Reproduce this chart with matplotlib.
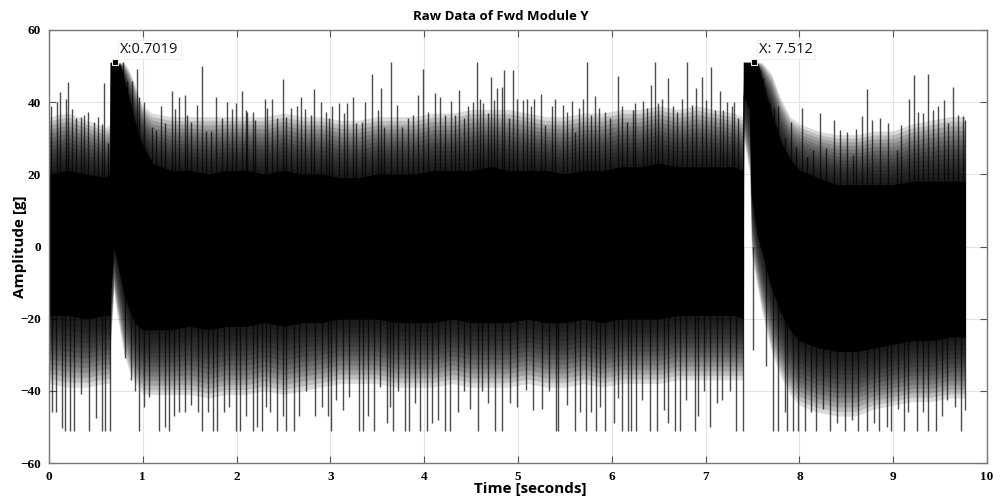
import numpy as np
import matplotlib
matplotlib.use("Agg")
import matplotlib.pyplot as plt

# ---------------- data ----------------
title = "Raw Data of Fwd Module Y"
xlabel = "Time [seconds]"
ylabel = "Amplitude [g]"
xticks = [0, 1, 2, 3, 4, 5, 6, 7, 8, 9, 10]
yticks = [-60, -40, -20, 0, 20, 40, 60]

# envelope of the dense signal band
band_t = [0, 0.2, 0.4, 0.6, 0.65, 0.655, 0.69, 0.72, 0.76, 0.8, 0.85, 0.9, 0.95, 1.0, 1.1, 1.3, 1.5,
          1.7, 1.9, 2.1, 2.3, 2.5, 2.7, 2.9, 3.1, 3.3, 3.5, 3.7, 3.9, 4.1, 4.3, 4.5, 4.7, 4.9, 5.1,
          5.3, 5.5, 5.7, 5.9, 6.1, 6.3, 6.5, 6.7, 6.9, 7.1, 7.3, 7.4, 7.405, 7.47, 7.49, 7.55, 7.6,
          7.7, 7.8, 7.9, 8.0, 8.2, 8.4, 8.6, 8.8, 9.0, 9.2, 9.4, 9.6, 9.765]
# solid black part
solid_hi = [20, 21, 20, 19, 20, 51, 51, 51, 50, 46, 41, 36, 31, 28, 23, 21, 21,
            20, 21, 21, 20, 21, 20, 20, 19, 19, 20, 20, 20, 21, 21, 21, 22, 21, 21,
            21, 20, 21, 21, 22, 22, 23, 22, 22, 22, 22, 21, 51, 51, 51, 51, 46,
            37, 29, 24, 21, 19, 17, 17, 17, 17, 18, 18, 18, 18]
solid_lo = [-19, -19, -20, -19, -19, -12, 0, -3, -8, -13, -17, -20, -22, -23, -23, -23, -22,
            -23, -22, -22, -21, -22, -21, -21, -20, -20, -20, -21, -21, -21, -20, -21, -21, -21, -20,
            -21, -21, -20, -21, -20, -20, -20, -19, -19, -19, -19, -20, 42, 38, 14, 4, -1,
            -11, -18, -23, -26, -28, -29, -29, -28, -27, -26, -26, -25, -25]
# where the dense fringe of spikes fades out
outer_hi = [36, 37, 35, 33, 34, 51, 51, 51, 51, 51, 49, 46, 42, 39, 37, 36, 36,
            36, 36, 36, 36, 37, 36, 36, 35, 35, 36, 36, 36, 37, 37, 38, 38, 38, 37,
            36, 36, 37, 37, 38, 38, 39, 38, 39, 38, 37, 36, 51, 51, 51, 51, 51,
            48, 41, 36, 34, 32, 31, 31, 32, 32, 34, 35, 36, 36]
outer_lo = [-38, -39, -39, -38, -38, -28, -12, -18, -24, -30, -34, -37, -39, -41, -41, -41, -41,
            -42, -41, -41, -40, -41, -40, -39, -38, -38, -38, -39, -39, -39, -38, -39, -39, -39, -38,
            -39, -39, -38, -39, -38, -38, -38, -37, -37, -37, -37, -37, 30, 20, -2, -11, -18,
            -29, -36, -41, -44, -46, -47, -47, -45, -44, -43, -43, -42, -42]

# tallest positive spikes: time, peak
up_t = [0.02, 0.09, 0.12, 0.185, 0.20, 0.25, 0.285, 0.345, 0.373, 0.416, 0.48, 0.526, 0.569, 0.586, 0.633,
        0.79, 0.835, 0.88, 0.94, 0.96, 1.013, 1.10, 1.137, 1.19, 1.237, 1.308, 1.343, 1.386, 1.45, 1.475,
        1.51, 1.58, 1.628, 1.67, 1.724, 1.777, 1.848, 1.90, 1.947, 1.99, 2.054, 2.097, 2.115, 2.175, 2.20,
        2.30, 2.328, 2.38, 2.434, 2.495, 2.53, 2.576, 2.647, 2.683, 2.73, 2.79, 2.825, 2.896, 2.95, 2.985,
        3.02, 3.092, 3.145, 3.18, 3.24, 3.27, 3.34, 3.37, 3.44, 3.51, 3.54, 3.57, 3.643, 3.707, 3.76,
        3.83, 3.877, 3.938, 3.99, 4.045, 4.116, 4.169, 4.222, 4.283, 4.33, 4.375, 4.425, 4.47, 4.524, 4.56,
        4.595, 4.63, 4.677, 4.71, 4.745, 4.773, 4.826, 4.855, 4.905, 4.95, 4.986, 5.05, 5.093, 5.135, 5.17,
        5.242, 5.288, 5.366, 5.395, 5.477, 5.526, 5.573, 5.608, 5.654, 5.69, 5.732, 5.779, 5.821, 5.86, 5.928,
        5.981, 6.07, 6.106, 6.159, 6.23, 6.248, 6.33, 6.372, 6.418, 6.461, 6.49, 6.532, 6.603, 6.656, 6.69,
        6.751, 6.798, 6.851, 6.897, 6.958, 7.004, 7.057, 7.10, 7.153, 7.189, 7.224, 7.277, 7.306, 7.348,
        7.579, 7.615, 7.633, 7.686, 7.729, 7.775, 7.846, 7.906, 7.963, 8.024, 8.084, 8.148, 8.219, 8.283,
        8.372, 8.432, 8.503, 8.567, 8.603, 8.663, 8.717, 8.77, 8.859, 8.948, 9.036, 9.083, 9.172, 9.221,
        9.267, 9.321, 9.374, 9.427, 9.481, 9.541, 9.587, 9.641, 9.687, 9.74, 9.765]
up_v = [39, 40, 42.7, 41, 45.7, 38, 35.5, 35.8, 36.5, 37.4, 34.6, 35.8, 34, 45.2, 28.6,
        51, 46, 46, 49.1, 41.5, 40, 33, 32.3, 38.8, 34.1, 43, 38, 41.3, 42, 36.4,
        34.6, 39.2, 50, 32, 32, 41.5, 35.5, 40, 38, 39.7, 43.1, 37.8, 37.4, 37.4, 35,
        40.8, 38.3, 41, 35.5, 46.3, 35.8, 38.3, 38.8, 41.5, 38, 36.5, 43.6, 40, 37.4, 35.5,
        38.8, 39.7, 37, 39.7, 41.3, 34.1, 34.6, 40, 47.8, 37.8, 43.8, 33.2, 51, 39.2, 33.2,
        35.5, 36.4, 42, 49.1, 37.4, 42.5, 41.5, 36.4, 40.4, 36.4, 43.4, 35.5, 38.8, 40, 51,
        41, 39.7, 36.9, 46.9, 40.6, 43.8, 44.3, 49, 35.5, 49, 41, 40.6, 40.8, 38.8, 40.8,
        42.2, 33.7, 38.9, 40.8, 39.2, 37.4, 40.4, 31.8, 38.3, 41, 51, 36.4, 41.7, 38.3, 37.4,
        35.5, 47.3, 38.8, 34.6, 37.8, 39.7, 40.3, 38.3, 44.8, 51, 39.7, 41, 46.6, 38.8, 37.4,
        41, 51, 39.2, 44, 46.9, 40.6, 49.7, 37.8, 43, 37.8, 40, 38.8, 40, 35.5,
        48.9, 46.6, 44.3, 39.7, 38.3, 38.8, 30, 34.6, 27.7, 38.3, 24.9, 26.7, 37, 27.2,
        35, 32.3, 31.8, 25.4, 32.5, 36.2, 43.6, 35, 35.5, 34.1, 26.7, 33.7, 40.8, 47.5,
        37.4, 36.9, 47.8, 37.8, 38.8, 40.6, 34.1, 44.1, 36.4, 36.2, 35]

# deepest negative spikes: time, trough
lo_t = [0.03, 0.078, 0.135, 0.17, 0.22, 0.27, 0.338, 0.43, 0.50, 0.57, 0.60, 0.645, 0.81, 0.87, 0.92,
        0.96, 1.01, 1.07, 1.17, 1.24, 1.28, 1.33, 1.39, 1.45, 1.51, 1.59, 1.63, 1.69, 1.75, 1.79,
        1.87, 1.92, 1.99, 2.04, 2.10, 2.17, 2.22, 2.27, 2.31, 2.36, 2.43, 2.49, 2.53, 2.61, 2.67,
        2.74, 2.84, 2.91, 2.97, 3.01, 3.06, 3.13, 3.20, 3.30, 3.35, 3.405, 3.46, 3.53, 3.60, 3.64,
        3.67, 3.72, 3.79, 3.84, 3.90, 3.96, 4.03, 4.08, 4.15, 4.22, 4.28, 4.36, 4.42, 4.49, 4.57,
        4.62, 4.68, 4.76, 4.83, 4.91, 4.99, 5.09, 5.16, 5.26, 5.33, 5.40, 5.43, 5.52, 5.61, 5.66,
        5.73, 5.78, 5.83, 5.87, 5.93, 6.02, 6.07, 6.11, 6.17, 6.20, 6.26, 6.32, 6.41, 6.48, 6.56,
        6.60, 6.67, 6.73, 6.79, 6.89, 6.92, 6.98, 7.05, 7.12, 7.17, 7.26, 7.32, 7.395, 7.50, 7.64,
        7.72, 7.77, 7.85, 7.87, 7.93, 7.99, 8.06, 8.12, 8.18, 8.25, 8.33, 8.40, 8.49, 8.56, 8.63,
        8.72, 8.79, 8.85, 8.93, 8.98, 9.05, 9.11, 9.16, 9.25, 9.32, 9.37, 9.46, 9.52, 9.57, 9.66,
        9.72, 9.765]
lo_v = [-46, -46, -50.4, -51, -51, -51, -41, -51, -47.6, -51, -51, -51, -31, -37, -40,
        -51, -44.4, -41.6, -51, -50, -51, -47, -46, -45.8, -44, -46, -51, -46, -51, -51,
        -46, -44.4, -51, -51, -47, -51, -50, -51, -44.4, -46, -51, -47, -51, -51, -47,
        -40, -47, -44.4, -47, -51, -42.6, -45.3, -41.6, -51, -51, -47, -51, -39, -49, -44.4,
        -51, -40, -51, -51, -43.5, -51, -51, -49, -48, -51, -51, -46, -40, -45, -51,
        -40, -43.5, -51, -51, -43.5, -44.4, -39.8, -45.3, -45, -40, -51, -51, -44, -51, -46,
        -51, -46, -51, -44.4, -51, -49, -42, -51, -51, -51, -51, -42.6, -51, -51, -45.3,
        -49, -51, -51, -42.6, -51, -47, -40, -50, -43.5, -42.6, -40, -51, -51, -28.7, -33,
        -51, -51, -46, -51, -51, -51, -51, -46, -51, -45, -51, -49, -51, -48, -51,
        -51, -49, -51, -50, -51, -45, -51, -46, -51, -46, -51, -51, -47, -42.6, -44.4,
        -51, -45.3]

# data-tip annotations
tips_x = [0.7019, 7.512]
tips_y = [51, 51]
tips_label = ["X:0.7019", "X: 7.512"]

# ---------------- drawing ----------------
fig = plt.figure(figsize=(10.01, 5.01), dpi=100)
ax = fig.add_axes([49 / 1001, 38 / 501, 938 / 1001, 433 / 501])

bt = np.asarray(band_t)
s_hi, s_lo = np.asarray(solid_hi, float), np.asarray(solid_lo, float)
o_hi, o_lo = np.asarray(outer_hi, float), np.asarray(outer_lo, float)
# soft fade of the spike fringe between the solid band and its outer edge
n_fade = 14
for k in range(1, n_fade + 1):
    f = k / n_fade
    ax.fill_between(bt, s_lo + (o_lo - s_lo) * f, s_hi + (o_hi - s_hi) * f,
                    color="black", alpha=0.14, lw=0, zorder=2)
ax.fill_between(bt, s_lo, s_hi, color="black", lw=0.5, zorder=2)
ax.vlines(up_t, 0, up_v, colors="black", lw=1.0, alpha=0.7, zorder=2)
ax.vlines(lo_t, lo_v, 0, colors="black", lw=1.0, alpha=0.7, zorder=2)

ax.plot(tips_x, tips_y, ls="none", marker="s", ms=5, mfc="black", mec="#f0ead0", mew=0.8, zorder=4)
for x, y, s in zip(tips_x, tips_y, tips_label):
    ax.annotate(s, (x, y), xytext=(4, 7), textcoords="offset points", fontsize=10.5,
                family="Open Sans", color="#111111", zorder=5,
                bbox=dict(boxstyle="square,pad=0.15", fc="white", ec="#f2f0e4", lw=0.6))

ax.set_xlim(0, 10)
ax.set_ylim(-60, 60)
ax.set_xticks(xticks)
ax.set_yticks(yticks)
ax.grid(True, color="#e3e3e3", lw=0.8, zorder=0)
ax.set_axisbelow(True)
ax.tick_params(direction="in", length=5, width=0.8, color="#555555", top=True, right=True,
               labelsize=9.5, pad=6)
for lab in ax.get_xticklabels() + ax.get_yticklabels():
    lab.set_family("Liberation Serif")
    lab.set_fontweight("bold")
for sp in ax.spines.values():
    sp.set_color("#777777")
    sp.set_linewidth(1.0)

fig.text(501 / 1001, 1 - 17 / 501, title, ha="center", va="center", fontsize=9.5,
         fontweight="bold", family="Open Sans")
fig.text(530 / 1001, 1 - 489 / 501, xlabel, ha="center", va="center", fontsize=11,
         fontweight="bold", family="Open Sans")
fig.text(20 / 1001, 1 - 247 / 501, ylabel, ha="center", va="center", fontsize=11,
         fontweight="bold", family="Open Sans", rotation=90)

fig.savefig("out.png", dpi=100, facecolor="white")
